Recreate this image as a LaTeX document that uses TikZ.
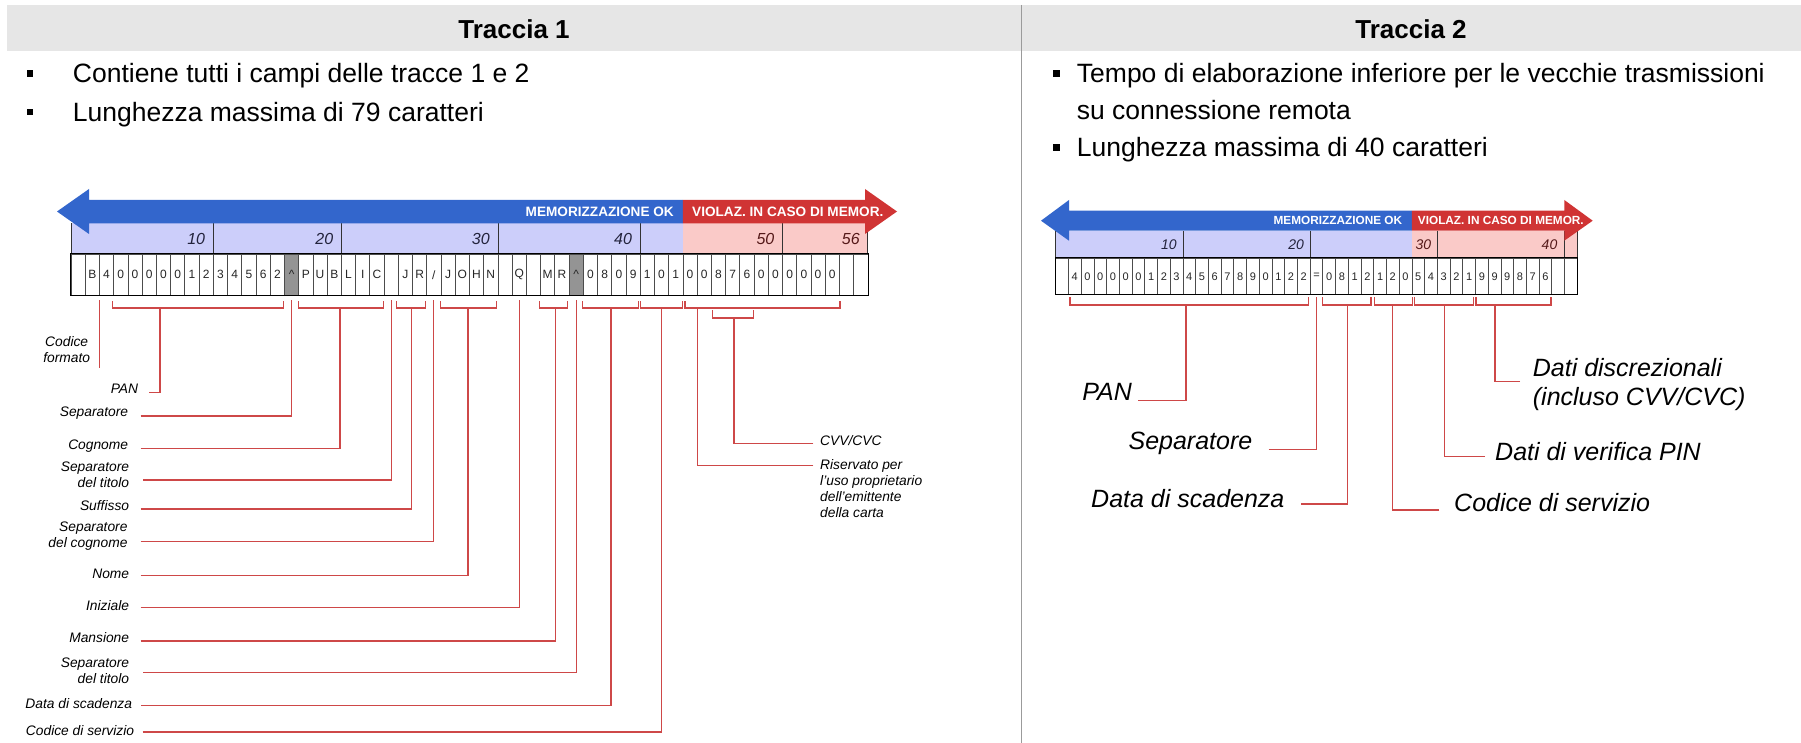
\documentclass[tikz,border=0pt]{standalone}
\usepackage{fontspec}
\setmainfont{Liberation Sans}
\usetikzlibrary{calc}

\definecolor{arrblue}{RGB}{51,102,204}
\definecolor{arrred}{RGB}{208,52,52}
\definecolor{bandblue}{RGB}{204,206,250}
\definecolor{bandred}{RGB}{250,202,200}
\definecolor{leadred}{RGB}{206,72,72}
\definecolor{headgray}{RGB}{230,230,230}
\definecolor{rulegray}{RGB}{155,155,155}
\definecolor{numblue}{RGB}{35,35,60}
\definecolor{numred}{RGB}{85,25,25}

\newcommand\fsz[2]{\fontsize{#1}{#2}\selectfont}
% bracket under a run of cells: left x, right x, tick top y, bar y
\newcommand\trkbrk[4]{\draw[lead] (#1,#3) |- (#2,#4) -- (#2,#3);}

\begin{document}
\begin{tikzpicture}[x=1pt,y=-1pt,
  lead/.style={draw=leadred,line width=1.2pt},
  lab/.style={font=\fsz{13.8}{16}\itshape,inner sep=0pt,align=right,anchor=east},
  labr/.style={font=\fsz{25}{29}\itshape,inner sep=0pt},
  bul/.style={fill=black,minimum size=6.5pt,inner sep=0pt},
  btext/.style={font=\fsz{26.5}{31},inner sep=0pt,anchor=base west},
  head/.style={font=\fsz{26}{31}\bfseries,inner sep=0pt,anchor=base},
  cellA/.style={draw=black!70,line width=0.7pt,minimum width=14.23pt,minimum height=41pt,inner sep=0pt,font=\fsz{12}{12},text=black!85},
  cellB/.style={draw=black!70,line width=0.7pt,minimum width=12.72pt,minimum height=36pt,inner sep=0pt,font=\fsz{11}{11},text=black!85},
  bandline/.style={draw=black!80,line width=0.8pt},
  numA/.style={font=\fsz{16}{16}\itshape,inner sep=0pt,anchor=east},
  numB/.style={font=\fsz{14}{14}\itshape,inner sep=0pt,anchor=east},
  arrtxtA/.style={font=\fsz{13.6}{14}\bfseries,text=white,inner sep=0pt},
  arrtxtB/.style={font=\fsz{11.8}{12}\bfseries,text=white,inner sep=0pt},
]
\fill[white] (0,0) rectangle (1801,743);
\useasboundingbox (0,0) rectangle (1801,743);

% ---------- header strip and column rule ----------
\fill[headgray] (7,5) rectangle (1801,51.5);
\draw[rulegray,line width=1.5pt] (1021.7,5) -- (1021.7,743);
\node[head] (h1) at (514,39) {Traccia 1};
\node[head] (h2) at (1411,39) {Traccia 2};

% ---------- bullet lists ----------
\node[bul] (bq1) at (30,73.5) {};
\node[btext] (bt1) at (72.7,83) {Contiene tutti i campi delle tracce 1 e 2};
\node[bul] (bq2) at (30,112) {};
\node[btext] (bt2) at (72.7,121.5) {Lunghezza massima di 79 caratteri};
\node[bul] (bq3) at (1056.7,73.5) {};
\node[btext] (bt3) at (1076.7,83) {Tempo di elaborazione inferiore per le vecchie trasmissioni};
\node[btext] (bt3b) at (1076.7,120) {su connessione remota};
\node[bul] (bq4) at (1056.7,147.5) {};
\node[btext] (bt4) at (1076.7,157) {Lunghezza massima di 40 caratteri};

% =================== TRACK 1 ===================
% position band
\fill[bandblue] (71,223.3) rectangle (682.9,254.3);
\fill[bandred] (682.9,223.3) rectangle (867.9,254.3);
\foreach \k in {0,10,19,30,40,50,56}
  \draw[bandline] ({71+14.23*\k},223.3) -- ++(0,31);
\node[numA,text=numblue] (a10) at ({71+14.23*10-8},238.8) {10};
\node[numA,text=numblue] (a20) at ({71+14.23*19-8},238.8) {20};
\node[numA,text=numblue] (a30) at ({71+14.23*30-8},238.8) {30};
\node[numA,text=numblue] (a40) at ({71+14.23*40-8},238.8) {40};
\node[numA,text=numred] (a50) at ({71+14.23*50-8},238.8) {50};
\node[numA,text=numred] (a56) at ({71+14.23*56-8},238.8) {56};

% two-coloured arrow
\fill[arrblue] (89,189) -- (57,211.5) -- (89,234) -- (89,223.3) -- (682.9,223.3) -- (682.9,200) -- (89,200) -- cycle;
\fill[arrred] (682.9,200) -- (865,200) -- (865,189) -- (897,211.5) -- (865,234) -- (865,223.3) -- (682.9,223.3) -- cycle;
\node[arrtxtA,anchor=east] (m1) at (674,211.5) {MEMORIZZAZIONE OK};
\node[arrtxtA,anchor=west] (v1) at (692,211.5) {VIOLAZ. IN CASO DI MEMOR.};

% character cells
\foreach \ch [count=\i from 0] in {{},B,4,0,0,0,0,0,1,2,3,4,5,6,2,\textasciicircum,P,U,B,L,I,C,{},J,R,/,J,O,H,N,{},Q,{},M,R,\textasciicircum,0,8,0,9,1,0,1,0,0,8,7,6,0,0,0,0,0,0,{},{}}{
  \pgfmathsetmacro\cx{71+14.23*(\i+0.5)}
  \pgfmathtruncatemacro\g{(\i==15 || \i==35) ? 42 : 0}
  \node[cellA,fill=black!\g] (ta\i) at (\cx,274.8) {\ch};
}
\draw[black,line width=1pt] (ta0.north west) rectangle (ta55.south east);

% brackets
\trkbrk{112.7}{283.3}{301}{308}
\trkbrk{298.3}{383.3}{301}{308}
\trkbrk{396.7}{425.7}{301}{308}
\trkbrk{440.7}{496.7}{301}{308}
\trkbrk{539.3}{567.7}{301}{308}
\trkbrk{582.3}{638.3}{301}{308}
\trkbrk{640.7}{682.7}{301}{308}
\trkbrk{685}{840}{301}{308}
\trkbrk{712.3}{753.3}{310}{318}

% labels
\node[lab,align=center,anchor=center] (lcf) at (66.7,349.5) {Codice\\formato};
\node[lab] (lpan) at (138.3,389) {PAN};
\node[lab] (lsep) at (128.3,413.3) {Separatore};
\node[lab] (lcog) at (128.3,446) {Cognome};
\node[lab] (lst1) at (129.3,474.7) {Separatore\\del titolo};
\node[lab] (lsuf) at (129.3,506) {Suffisso};
\node[lab] (lsc) at (127.7,536.3) {Separatore\\del cognome};
\node[lab] (lnom) at (129.3,574.3) {Nome};
\node[lab] (lini) at (129.3,606) {Iniziale};
\node[lab] (lman) at (129.3,637.7) {Mansione};
\node[lab] (lst2) at (129.3,670.3) {Separatore\\del titolo};
\node[lab] (ldat) at (132.3,704) {Data di scadenza};
\node[lab] (lcod) at (134.3,730.7) {Codice di servizio};
\node[lab,anchor=west,align=left] (lcvv) at (820,440.7) {CVV/CVC};
\node[lab,anchor=west,align=left] (lris) at (820,488.3) {Riservato per\\l'uso proprietario\\dell'emittente\\della carta};

% leaders
\draw[lead] (ta2.south west |- 0,300) -- (ta2.south west |- 0,368.3);
\draw[lead] (lpan.east) ++(10.7,3.7) -| (160,308);
\draw[lead] (lsep.east) ++(12.4,2.7) -| (ta15.south |- 0,300);
\draw[lead] (lcog.east) ++(12.4,2.7) -| (340,308);
\draw[lead] (lst1.east) ++(14,5.3) -| (ta22.south |- 0,300);
\draw[lead] (lsuf.east) ++(11.4,3) -| (411.7,308);
\draw[lead] (lsc.east) ++(13,5.4) -| (ta25.south |- 0,300);
\draw[lead] (lnom.east) ++(11.4,1.4) -| (468,308);
\draw[lead] (lini.east) ++(11.4,1.7) -| (ta31.south |- 0,300);
\draw[lead] (lman.east) ++(11.4,3.3) -| (555.5,308);
\draw[lead] (lst2.east) ++(14,2) -| (ta35.south |- 0,300);
\draw[lead] (ldat.east) ++(8.7,1.7) -| (611,308);
\draw[lead] (lcod.east) ++(8.4,1.3) -| (661.7,308);
\draw[lead] (lcvv.west) ++(-6.7,2.6) -| (734,318);
\draw[lead] (lris.west) ++(-6.7,-22.6) -| (697.3,308);

% =================== TRACK 2 ===================
\fill[bandblue] (1055.7,230.7) rectangle (1411.9,258.3);
\fill[bandred] (1411.9,230.7) rectangle (1577.2,258.3);
\foreach \k in {0,10,20,30,40,41}
  \draw[bandline] ({1055.7+12.72*\k},230.7) -- ++(0,27.6);
\node[numB,text=numblue] (b10) at ({1055.7+12.72*10-6},244.5) {10};
\node[numB,text=numblue] (b20) at ({1055.7+12.72*20-6},244.5) {20};
\node[numB,text=numred] (b30) at ({1055.7+12.72*30-6},244.5) {30};
\node[numB,text=numred] (b40) at ({1055.7+12.72*40-7},244.5) {40};

\fill[arrblue] (1069,200) -- (1041,220.7) -- (1069,240.7) -- (1069,230.7) -- (1411.9,230.7) -- (1411.9,210.7) -- (1069,210.7) -- cycle;
\fill[arrred] (1411.9,210.7) -- (1564.3,210.7) -- (1564.3,200) -- (1592.7,220.7) -- (1564.3,240.7) -- (1564.3,230.7) -- (1411.9,230.7) -- cycle;
\node[arrtxtB,anchor=east] (m2) at (1402.3,220.7) {MEMORIZZAZIONE OK};
\node[arrtxtB,anchor=west] (v2) at (1417.7,220.7) {VIOLAZ. IN CASO DI MEMOR.};

\foreach \ch [count=\i from 0] in {{},4,0,0,0,0,0,1,2,3,4,5,6,7,8,9,0,1,2,2,=,0,8,1,2,1,2,0,5,4,3,2,1,9,9,9,8,7,6,{},{}}{
  \pgfmathsetmacro\cx{1055.7+12.72*(\i+0.5)}
  \node[cellB] (tb\i) at (\cx,276.3) {\ch};
}
\draw[black,line width=1pt] (tb0.north west) rectangle (tb40.south east);

\trkbrk{1070}{1308.3}{297}{305}
\trkbrk{1322.7}{1371}{297}{305}
\trkbrk{1374.3}{1412.3}{297}{305}
\trkbrk{1414.3}{1473.3}{297}{305}
\trkbrk{1476}{1551}{297}{305}

\node[labr,anchor=east] (rpan) at (1132,391.7) {PAN};
\node[labr,anchor=east] (rsep) at (1252.5,443.3) {Separatore};
\node[labr,anchor=east] (rdat) at (1284.6,498.3) {Data di scadenza};
\node[labr,anchor=west] (rcod) at (1454,502.3) {Codice di servizio};
\node[labr,anchor=west] (rpin) at (1495,451.7) {Dati di verifica PIN};
\node[labr,anchor=west,align=left] (rdis) at (1532.7,384.2) {Dati discrezionali\\(incluso CVV/CVC)};

\draw[lead] (rpan.east) ++(6,9) -| (1186,305);
\draw[lead] (rsep.east) ++(16,6) -| (tb20.south |- 0,297);
\draw[lead] (rdat.east) ++(16.8,5.7) -| (1347.5,305);
\draw[lead] (rcod.west) ++(-14.7,7.7) -| (1392.5,305);
\draw[lead] (rpin.west) ++(-10,5) -| (1444.3,305);
\draw[lead] (rdis.west) ++(-12.7,-2.5) -| (1495,305);
\end{tikzpicture}
\end{document}
